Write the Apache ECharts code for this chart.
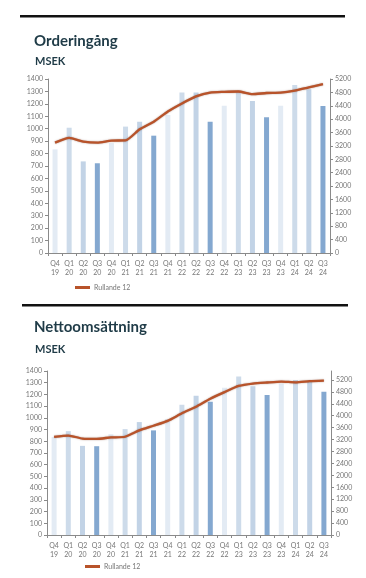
<!DOCTYPE html>
<html><head><meta charset="utf-8">
<script src="https://cdn.jsdelivr.net/npm/echarts@6/dist/echarts.min.js"></script>
<style>html,body{margin:0;padding:0;background:#fff}#c{width:366px;height:578px}</style>
</head><body><div id="c"></div>
<script>
const categories = ['Q4 19','Q1 20','Q2 20','Q3 20','Q4 20','Q1 21','Q2 21','Q3 21','Q4 21','Q1 22','Q2 22','Q3 22','Q4 22','Q1 23','Q2 23','Q3 23','Q4 23','Q1 24','Q2 24','Q3 24'];
const orderBars = [834, 1008, 737, 722, 884, 1017, 1057, 944, 1110, 1291, 1292, 1057, 1184, 1298, 1223, 1093, 1185, 1352, 1318, 1183];
const orderRolling = [3297, 3440, 3330, 3297, 3360, 3365, 3696, 3925, 4230, 4470, 4680, 4796, 4816, 4826, 4747, 4781, 4791, 4851, 4951, 5045];
const salesBars = [836, 887, 761, 758, 860, 904, 964, 893, 990, 1112, 1188, 1137, 1258, 1354, 1270, 1195, 1292, 1323, 1317, 1222];
const salesRolling = [3290, 3335, 3235, 3222, 3273, 3295, 3510, 3665, 3828, 4080, 4303, 4568, 4790, 4998, 5080, 5115, 5143, 5121, 5160, 5180];
const leftTicks = {min: 0, max: 1400, interval: 100};
const rightTicks = {min: 0, interval: 400};

const quarterColor = {Q1: '#cddbea', Q2: '#c2d3e6', Q3: '#84a8d0', Q4: '#e3ebf4'};
const LINE = '#b8532a';
const AX = '#8a8a8a';
const font = 'Lato, "Open Sans", sans-serif';

function xAxis(gi){
  return {type:'category', gridIndex:gi, data:categories,
    axisLine:{lineStyle:{color:AX,width:1}},
    axisTick:{show:true,length:3,lineStyle:{color:AX}},
    axisLabel:{color:'#777',fontSize:7,fontFamily:font,lineHeight:9,margin:6,interval:0,
      formatter:v=>v.replace(' ','\n')}};
}
function yAxis(gi, pos, t, extra){
  return Object.assign({type:'value', gridIndex:gi, position:pos, min:t.min, interval:t.interval,
    splitLine:{show:false},
    axisLine:{show:true,lineStyle:{color:AX,width:1}},
    axisTick:{show:true,length:3,lineStyle:{color:AX}},
    axisLabel:{color:'#777',fontSize:7,fontFamily:font,margin:5,formatter:v=>String(v)}}, t.max!=null?{max:t.max}:{}, extra||{});
}
function bars(gi, data){
  return {type:'bar', xAxisIndex:gi, yAxisIndex:gi*2, barWidth:5, silent:true,
    data:data.map((v,i)=>({value:v,itemStyle:{color:quarterColor[categories[i].slice(0,2)]}}))};
}
function line(gi, data){
  return {type:'line', name:'Rullande 12', xAxisIndex:gi, yAxisIndex:gi*2+1, data:data,
    symbol:'none', smooth:0.2, z:5,
    lineStyle:{color:LINE,width:2.3,shadowColor:'rgba(90,30,10,0.5)',shadowBlur:1.5},
    itemStyle:{color:LINE}};
}

const chart = echarts.init(document.getElementById('c'), null, {renderer:'canvas'});
chart.setOption({
  animation:false,
  backgroundColor:'#fff',
  title:[
    {text:'Orderingång', left:29, top:29, textStyle:{fontSize:15,fontWeight:'bold',color:'#1f3b47',fontFamily:font}},
    {text:'MSEK', left:30, top:51, textStyle:{fontSize:11,fontWeight:'bold',color:'#1f3b47',fontFamily:font}},
    {text:'Nettoomsättning', left:29, top:315, textStyle:{fontSize:15,fontWeight:'bold',color:'#1f3b47',fontFamily:font}},
    {text:'MSEK', left:30, top:339, textStyle:{fontSize:11,fontWeight:'bold',color:'#1f3b47',fontFamily:font}}
  ],
  graphic:[
    {type:'rect', shape:{x:20,y:15,width:325,height:2.5}, style:{fill:'#111'}},
    {type:'rect', shape:{x:22,y:304,width:326,height:2.5}, style:{fill:'#111'}}
  ],
  legend:[
    {left:70, top:279, itemWidth:15, itemHeight:3, itemGap:4, data:[{name:'Rullande 12', icon:'rect'}],
     textStyle:{fontSize:7,color:'#777',fontFamily:font,padding:[0,0,0,-1]}, selectedMode:false},
    {left:80, top:558, itemWidth:15, itemHeight:3, itemGap:4, data:[{name:'Rullande 12', icon:'rect'}],
     textStyle:{fontSize:7,color:'#777',fontFamily:font,padding:[0,0,0,-1]}, selectedMode:false}
  ],
  grid:[
    {left:48, right:36, top:79, height:174},
    {left:47, right:35, top:371, height:164}
  ],
  xAxis:[xAxis(0), xAxis(1)],
  yAxis:[
    yAxis(0,'left',leftTicks),
    yAxis(0,'right',Object.assign({max:5200},rightTicks)),
    yAxis(1,'left',leftTicks),
    yAxis(1,'right',Object.assign({max:5500},rightTicks),{axisLabel:{color:'#777',fontSize:7,fontFamily:font,margin:5,showMaxLabel:false,formatter:v=>String(v)}})
  ],
  series:[bars(0,orderBars), line(0,orderRolling), bars(1,salesBars), line(1,salesRolling)]
});
</script></body></html>
